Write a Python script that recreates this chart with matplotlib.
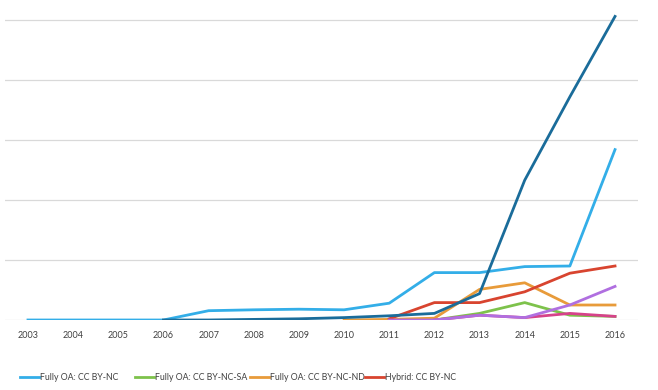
import numpy as np
import matplotlib
matplotlib.use("Agg")
from matplotlib import pyplot as plt

nan = np.nan

# chart values (y axis has no labels; one gridline step = 100)
years = [str(y) for y in range(2003, 2017)]
fully_nc = [0, 0, 0, 0, 15.5, 17, 18, 17, 28, 79, 79, 89, 90, 284]
fully_nc_sa = [nan] * 8 + [0, 0, 11, 29, 8, 6]
fully_nc_nd = [nan] * 7 + [0, 1, 3, 51, 62, 25, 25]
hybrid_nc = [nan] * 8 + [2, 29, 29, 47, 78, 90]
series5 = [nan] * 3 + [0, 0, 1, 2, 4, 7, 11, 44, 233, 372, 506]
series6 = [nan] * 9 + [0, 8, 4, 11, 6]
series7 = [nan] * 8 + [0, 0, 8, 4, 25, 56]

labels = ["Fully OA: CC BY-NC", "Fully OA: CC BY-NC-SA",
          "Fully OA: CC BY-NC-ND", "Hybrid: CC BY-NC"]

plt.rcParams['font.family'] = ['Lato', 'DejaVu Sans']

fig = plt.figure(figsize=(6.58, 3.90), dpi=100)
W, H = 658, 390
ax = fig.add_axes([5.4 / W, (H - 320) / H, (637.6 - 5.4) / W, 310 / H])

x = np.arange(len(years))
lw = 2.0
handles = []
handles += ax.plot(x, fully_nc, color="#33aee8", lw=lw, label=labels[0])
handles += ax.plot(x, fully_nc_sa, color="#7dc24b", lw=lw, label=labels[1])
handles += ax.plot(x, fully_nc_nd, color="#e89b3a", lw=lw, label=labels[2])
handles += ax.plot(x, hybrid_nc, color="#d8442f", lw=lw, label=labels[3])
ax.plot(x, series5, color="#1a6c9a", lw=lw)
ax.plot(x, series6, color="#d6428a", lw=lw)
ax.plot(x, series7, color="#b06fe0", lw=lw)

ax.set_xlim(-0.5, 13.5)
ax.set_ylim(0, 516.7)
ax.set_yticks([0, 100, 200, 300, 400, 500])
ax.set_yticklabels([])
ax.set_xticks(x)
ax.set_xticklabels(years, fontsize=6.5, color="#404040")
ax.tick_params(length=0, pad=8)
ax.grid(axis="y", color="#d9d9d9", lw=0.9)
ax.set_axisbelow(True)
for s in ax.spines.values():
    s.set_visible(False)

# legend entries sit in fixed-width slots, like the original
for i, h in enumerate(handles):
    fig.legend(handles=[h], loc="center left",
               bbox_to_anchor=((20 + 115 * i) / W, 12 / H),
               frameon=False, fontsize=6.3, labelcolor="#404040",
               borderpad=0, borderaxespad=0, handlelength=2.2,
               handletextpad=0.1)

fig.savefig("out.png", dpi=100)
